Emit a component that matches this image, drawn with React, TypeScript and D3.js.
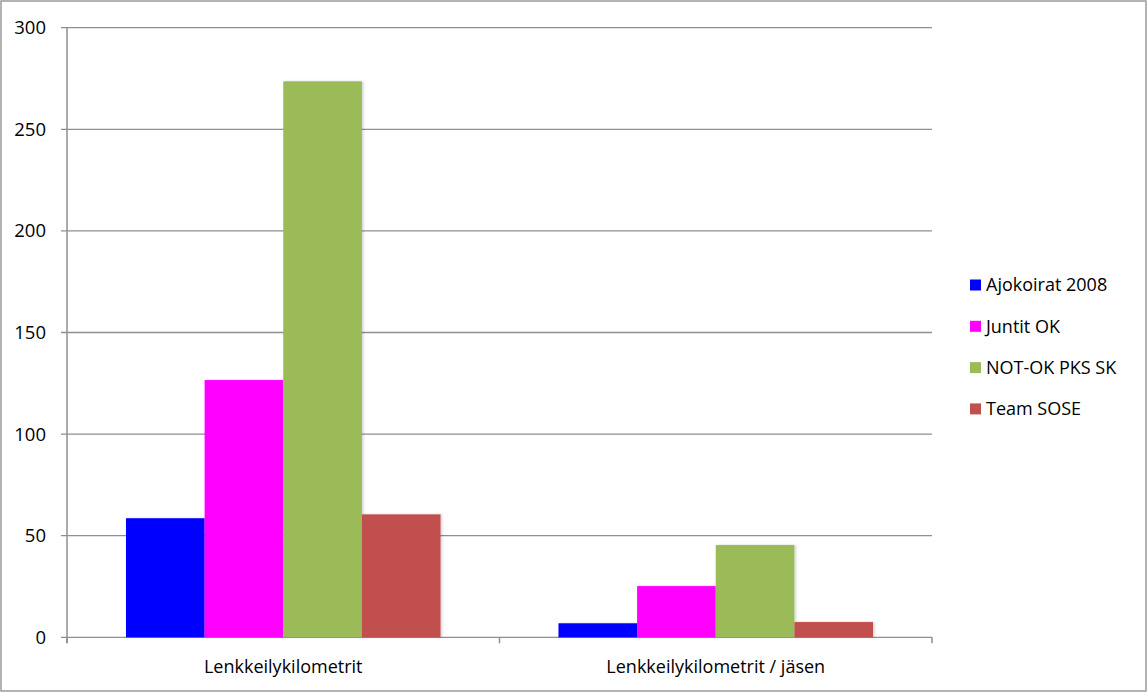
import React from "react";
import * as d3 from "d3";

const categories = ["Lenkkeilykilometrit", "Lenkkeilykilometrit / jäsen"];
const seriesNames = ["Ajokoirat 2008", "Juntit OK", "NOT-OK PKS SK", "Team SOSE"];
const seriesColors = ["#0000ff", "#ff00ff", "#9bbb59", "#c0504d"];
const ajokoirat = [58.6, 6.9];
const juntit = [126.6, 25.2];
const notok = [273.6, 45.4];
const teamSose = [60.5, 7.5];
const yTicks = [0, 50, 100, 150, 200, 250, 300];

const W = 1147;
const H = 692;
const plot = { left: 67, right: 932, top: 27.7, bottom: 637.3 };
const FONT = "'Open Sans', 'Liberation Sans', sans-serif";

export default function App() {
  const series = [ajokoirat, juntit, notok, teamSose];
  const y = d3.scaleLinear().domain([0, 300]).range([plot.bottom, plot.top]);
  const x0 = d3.scaleBand<string>().domain(categories).range([plot.left, plot.right]).paddingInner(0).paddingOuter(0);
  const x1 = d3
    .scaleBand<number>()
    .domain(d3.range(seriesNames.length))
    .range([0, x0.bandwidth()])
    .paddingOuter(0.75)
    .paddingInner(0);
  const axisColor = "#8f8f8f";
  return (
    <svg width={W} height={H} style={{ position: "absolute", left: 0, top: 0, background: "#fff" }}>
      <defs>
        <filter id="sh" x="-10%" y="-10%" width="130%" height="130%">
          <feDropShadow dx="1.5" dy="0" stdDeviation="1.2" floodColor="#000" floodOpacity="0.18" />
        </filter>
      </defs>
      <rect x={1} y={1} width={W - 2} height={H - 2} fill="#fff" stroke="#9a9a9a" strokeWidth={1.5} />
      {yTicks.map((t) => (
        <g key={t}>
          <line x1={plot.left - 6} x2={plot.right} y1={y(t)} y2={y(t)} stroke={axisColor} strokeWidth={1.3} />
          <text x={46} y={y(t)} dy="0.35em" textAnchor="end" fontFamily={FONT} fontSize={18.5} fill="#000">
            {t}
          </text>
        </g>
      ))}
      <line x1={plot.left} x2={plot.left} y1={plot.top} y2={plot.bottom + 6} stroke={axisColor} strokeWidth={1.5} />
      {[plot.left, ...categories.map((c) => (x0(c) as number) + x0.bandwidth())].map((xx, i) => (
        <line key={i} x1={xx} x2={xx} y1={plot.bottom} y2={plot.bottom + 6} stroke={axisColor} strokeWidth={1.5} />
      ))}
      {categories.map((c, ci) => (
        <g key={c} transform={`translate(${x0(c)},0)`}>
          {series.map((s, si) => (
            <rect
              key={si}
              x={x1(si)}
              y={y(s[ci])}
              width={x1.bandwidth()}
              height={y(0) - y(s[ci])}
              fill={seriesColors[si]}
              filter="url(#sh)"
            />
          ))}
          <text
            x={x0.bandwidth() / 2}
            y={673}
            textAnchor="middle"
            fontFamily={FONT}
            fontSize={18}
            fill="#000"
          >
            {c}
          </text>
        </g>
      ))}
      {seriesNames.map((n, i) => {
        const cy = 285 + i * 41.3;
        return (
          <g key={n}>
            <rect x={970} y={cy - 5.5} width={11} height={11} fill={seriesColors[i]} />
            <text x={986} y={cy} dy="0.35em" fontFamily={FONT} fontSize={18} fill="#000">
              {n}
            </text>
          </g>
        );
      })}
    </svg>
  );
}
